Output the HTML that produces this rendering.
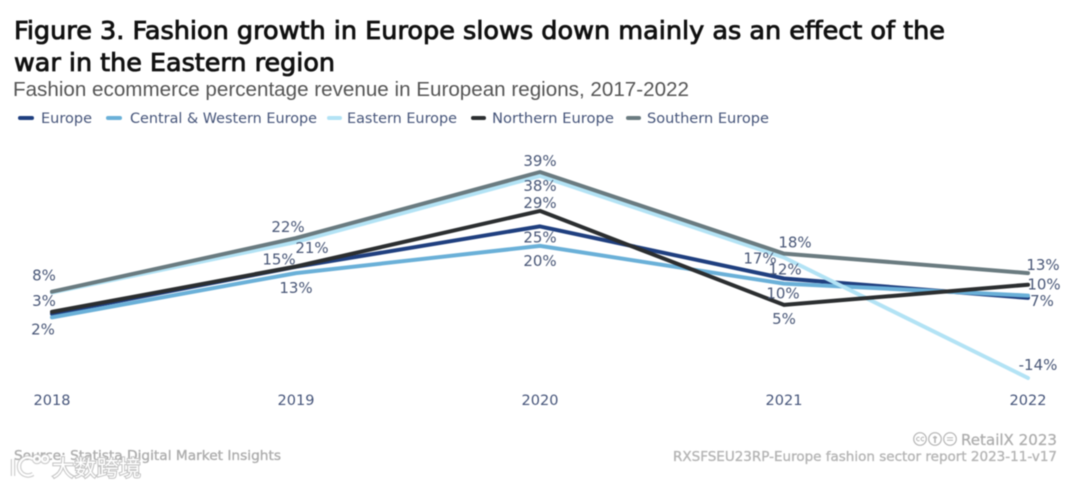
<!DOCTYPE html>
<html lang="en">
<head>
<meta charset="utf-8">
<title>Figure 3. Fashion growth in Europe</title>
<style>
html,body{margin:0;padding:0;background:#fff;width:1080px;height:488px;overflow:hidden}
svg{display:block;filter:blur(0.45px)}
text{font-family:"DejaVu Sans","Liberation Sans",sans-serif}
.legend-text{font-size:14px;fill:#46557a}
.tick{font-size:14.5px;fill:#46557a;text-anchor:middle}
.value{font-size:15px;fill:#4a5878;text-anchor:middle;dominant-baseline:central}
</style>
</head>
<body>
<svg id="chart" xmlns="http://www.w3.org/2000/svg" width="1080" height="488" viewBox="0 0 1080 488">
  <rect width="1080" height="488" fill="#fff"/>
  <text x="14" y="39" font-size="25" fill="#111" stroke="#111" stroke-width="0.85" textLength="931" lengthAdjust="spacingAndGlyphs">Figure 3. Fashion growth in Europe slows down mainly as an effect of the</text>
  <text x="14" y="71" font-size="25" fill="#111" stroke="#111" stroke-width="0.85" textLength="321" lengthAdjust="spacingAndGlyphs">war in the Eastern region</text>
  <text x="13" y="96" font-size="20.5" fill="#555" style='font-family:"Liberation Sans",sans-serif' textLength="676" lengthAdjust="spacingAndGlyphs">Fashion ecommerce percentage revenue in European regions, 2017-2022</text>

  <g>
    <g>
      <line x1="20" y1="118" x2="32" y2="118" stroke="#1f3f7f" stroke-width="4" stroke-linecap="round"/>
      <text class="legend-text" x="41" y="123" textLength="51" lengthAdjust="spacingAndGlyphs">Europe</text>
    </g>
    <g>
      <line x1="108" y1="118" x2="120" y2="118" stroke="#6ab0d8" stroke-width="4" stroke-linecap="round"/>
      <text class="legend-text" x="130" y="123" textLength="187" lengthAdjust="spacingAndGlyphs">Central &amp; Western Europe</text>
    </g>
    <g>
      <line x1="329" y1="118" x2="340" y2="118" stroke="#b3e3f5" stroke-width="4" stroke-linecap="round"/>
      <text class="legend-text" x="347" y="123" textLength="110" lengthAdjust="spacingAndGlyphs">Eastern Europe</text>
    </g>
    <g>
      <line x1="473" y1="118" x2="484" y2="118" stroke="#2b2e30" stroke-width="4" stroke-linecap="round"/>
      <text class="legend-text" x="492" y="123" textLength="122" lengthAdjust="spacingAndGlyphs">Northern Europe</text>
    </g>
    <g>
      <line x1="628" y1="118" x2="639" y2="118" stroke="#6a7b80" stroke-width="4" stroke-linecap="round"/>
      <text class="legend-text" x="647" y="123" textLength="122" lengthAdjust="spacingAndGlyphs">Southern Europe</text>
    </g>
  </g>

  <g id="lines"></g>
  <g id="labels"></g>
  <g id="ticks"></g>

  <text x="14" y="460" font-size="13.5" fill="#adadad" stroke="#adadad" stroke-width="0.35" textLength="267" lengthAdjust="spacingAndGlyphs">Source: Statista Digital Market Insights</text>

  <g>
    <g fill="none" stroke="#bdbdbd" stroke-width="4.5" opacity="0.75">
      <path d="M13 459 V476"/><path d="M33 459 A9 9 0 1 0 33 474"/>
      <circle cx="37" cy="459" r="3"/><circle cx="45" cy="459" r="3"/>
    </g>
    <g fill="none" stroke="#fff" stroke-width="2.2">
      <path d="M13 459 V476"/><path d="M33 459 A9 9 0 1 0 33 474"/>
      <circle cx="37" cy="459" r="3"/><circle cx="45" cy="459" r="3"/>
    </g>
    <text x="52" y="476" font-size="22" fill="#fff" stroke="#c2c2c2" stroke-width="2" paint-order="stroke" style='font-family:"Noto Sans CJK SC","WenQuanYi Zen Hei",sans-serif' textLength="89">大数跨境</text>
  </g>

  <g fill="none" stroke="#b5b5b5" stroke-width="1.2">
    <circle cx="920" cy="439" r="6.3"/><circle cx="935" cy="439" r="6.3"/><circle cx="950" cy="439" r="6.3"/>
    <path d="M919.5 437.6 a1.8 1.8 0 1 0 0 2.8 M924 437.6 a1.8 1.8 0 1 0 0 2.8" stroke-width="0.9"/>
    <path d="M935 436 V443 M933 437.5 H937" stroke-width="1.6"/>
    <path d="M947 437.8 H953 M947 440.2 H953" stroke-width="1"/>
  </g>
  <text x="1057" y="445" font-size="15.5" fill="#adadad" stroke="#adadad" stroke-width="0.25" text-anchor="end" textLength="96" lengthAdjust="spacingAndGlyphs">RetailX 2023</text>
  <text x="1057" y="461" font-size="13.5" fill="#b5b5b5" stroke="#b5b5b5" stroke-width="0.35" text-anchor="end" textLength="384" lengthAdjust="spacingAndGlyphs">RXSFSEU23RP-Europe fashion sector report 2023-11-v17</text>
</svg>

<script>
var years = ['2018', '2019', '2020', '2021', '2022'];
var europeValues = [2.5, 14.6, 25, 11.6, 6.6];
var centralWesternValues = [1.6, 13, 20, 10.3, 7.2];
var easternValues = [8, 21, 38, 17, -14];
var northernValues = [3, 14.7, 29, 4.8, 10];
var southernValues = [8.2, 22, 39, 18, 13];

function xScale(i) { return 52 + i * 244; }
function yScale(v) { return 323.6 - v * 3.887; }

/* label placement relative to each point: [dx, dy], null = label hidden behind an overlapping one */
var europeLabelPlacement = [null, null, [0, 11], [1, -9], [14, 3]];
var centralLabelPlacement = [[-9, 12], [0, 15], [0, 15], [-1, 10], null];
var easternLabelPlacement = [null, [16, 6], [0, 10], [-24, 1], [10, -13]];
var northernLabelPlacement = [[-8, -11], [-17, -7], [0, -8], [0, 14], [16, 0]];
var southernLabelPlacement = [[-8, -16], [-8, -11], [0, -11], [11, -11], [15, -8]];

var seriesOrder = [
  { key: 'europe', values: europeValues, color: '#1f3f7f', place: europeLabelPlacement },
  { key: 'central-western', values: centralWesternValues, color: '#6ab0d8', place: centralLabelPlacement },
  { key: 'eastern', values: easternValues, color: '#b3e3f5', place: easternLabelPlacement },
  { key: 'northern', values: northernValues, color: '#2b2e30', place: northernLabelPlacement },
  { key: 'southern', values: southernValues, color: '#6a7b80', place: southernLabelPlacement }
];

var NS = 'http://www.w3.org/2000/svg';
var linesGroup = document.getElementById('lines');
var labelsGroup = document.getElementById('labels');
var ticksGroup = document.getElementById('ticks');

seriesOrder.forEach(function (s) {
  var line = document.createElementNS(NS, 'polyline');
  
  
  var pts = s.values.map(function (v, i) { return xScale(i) + ',' + yScale(v).toFixed(1); });
  line.setAttribute('points', pts.join(' '));
  line.setAttribute('fill', 'none');
  line.setAttribute('stroke', s.color);
  line.setAttribute('stroke-width', '4');
  line.setAttribute('stroke-linejoin', 'round');
  line.setAttribute('stroke-linecap', 'round');
  linesGroup.appendChild(line);

  s.values.forEach(function (v, i) {
    var p = s.place[i];
    if (!p) return;
    var t = document.createElementNS(NS, 'text');
    
    
    t.setAttribute('class', 'value');
    t.setAttribute('x', xScale(i) + p[0]);
    t.setAttribute('y', yScale(v) + p[1]);
    t.textContent = Math.round(v) + '%';
    labelsGroup.appendChild(t);
  });
});

years.forEach(function (y, i) {
  var t = document.createElementNS(NS, 'text');
  
  
  t.setAttribute('class', 'tick');
  t.setAttribute('x', xScale(i));
  t.setAttribute('y', 405);
  t.textContent = y;
  ticksGroup.appendChild(t);
});
</script>
</body>
</html>
